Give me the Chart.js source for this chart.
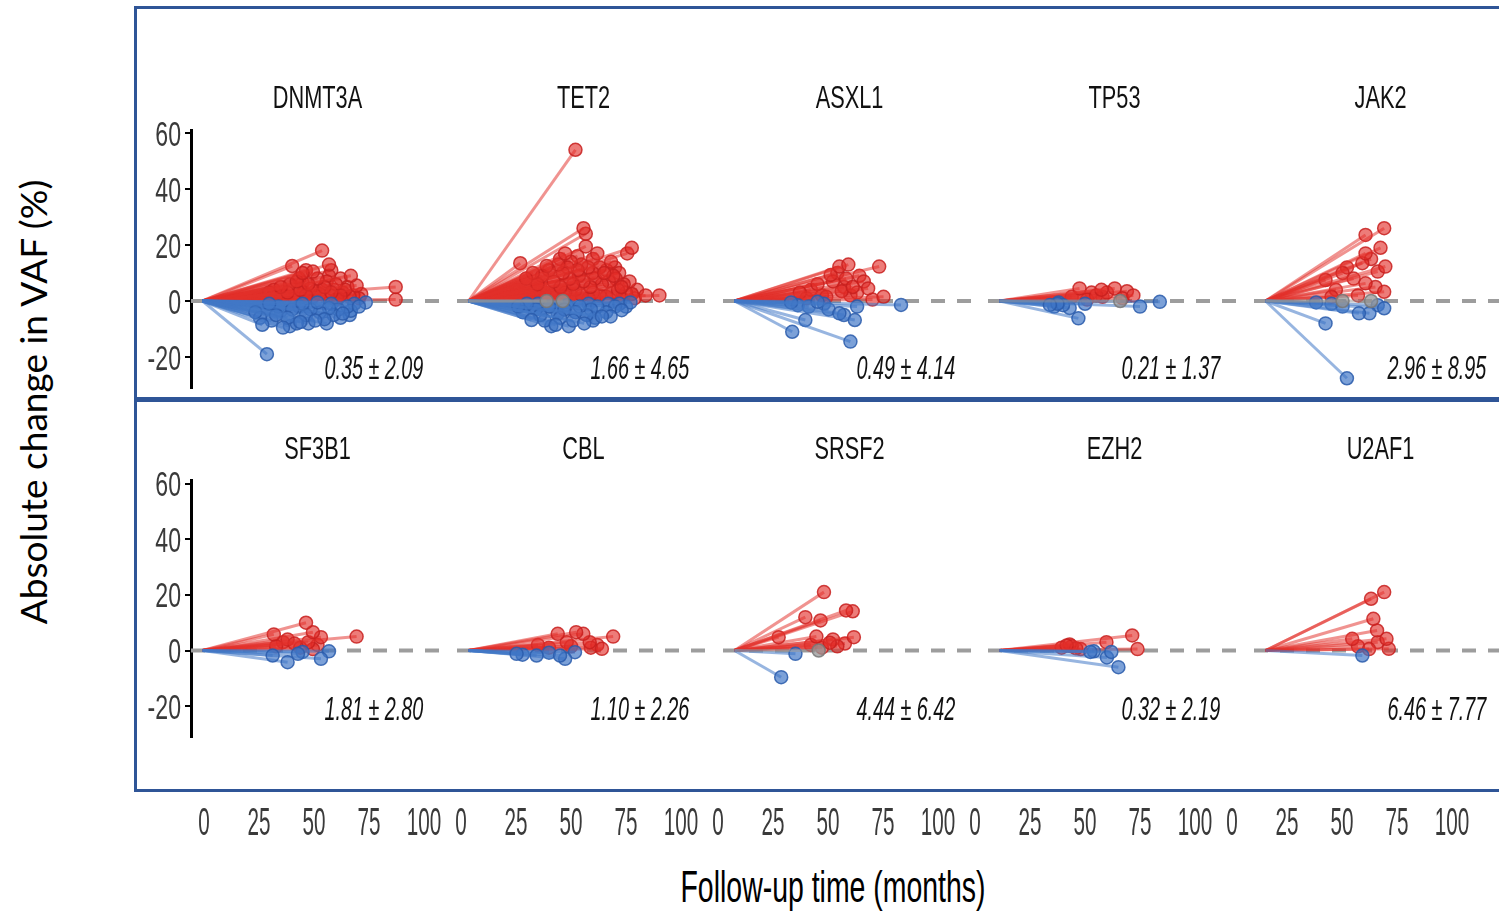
<!DOCTYPE html>
<html>
<head>
<meta charset="utf-8">
<title>Absolute change in VAF by gene</title>
<script src="https://cdn.jsdelivr.net/npm/chart.js@4.4.1/dist/chart.umd.min.js"></script>
<style>
  html, body { margin: 0; padding: 0; background: #fff; }
  #page { position: relative; width: 1499px; height: 912px; overflow: hidden; background: #fff; }
  #page canvas { position: absolute; }
  .frame { position: absolute; border: 3px solid #2f5597; box-sizing: border-box; }
  .axis-title { position: absolute; white-space: nowrap; color: #000; line-height: 1; left: 0; top: 0; }
</style>
</head>
<body>
<div id="page">
  <div class="frame" style="left:134px;top:6px;width:1372px;height:394px"></div>
  <div class="frame" style="left:134px;top:399px;width:1372px;height:393px"></div>
  <div id="ytitle" class="axis-title">Absolute change in VAF (%)</div>
  <div id="xtitle" class="axis-title">Follow-up time (months)</div>
</div>
<script>
// ---- data: [follow-up months, absolute change in VAF (%)] per clone ----
const DNMT3A = [
  [52,18],[55,13],[39,12.5],[43.5,10],[48,10.5],[64.5,9],[67,5.5],[84,5],[84,0.5],[41,7],
  [46,6],[50,8],[34,5],[37,3],[42.5,4],[45,2],[53,5],[56,3],[58,6],[60,2],
  [62,4],[64,1.5],[29,3],[32,1.5],[35,2],[40,1],[44,3],[47,4.5],[51,2.5],[54,7],
  [57,4],[59,1],[61,3],[65.5,2],[68,1],[24,1],[27,2],[31,4],[38,6],[42,8],
  [49,3.5],[55,9],[63,5],[69,2.5],[36,1],[48,1.5],[52,4],[58,0.5],[56,11],[45,11],
  [60,8],[43.5,6.5],
  [28,-19],[26,-8.5],[35,-9.5],[42.5,-7.5],[49,-7],[53,-6.5],[61,-4.5],[68,-2],[71,-0.5],[29,-1],
  [43.5,-1],[50,-0.5],[23,-4],[25,-6],[32,-5],[37,-6],[39,-3],[41,-8],[45,-5],[47,-3],
  [51,-4],[55,-2.5],[57,-5],[59,-3],[63,-2],[64.5,-3.5],[66,-1],[33,-2],[30,-7],[38,-9],
  [46,-8],[54,-8],[60,-6],[42,-2],[34,-3.5],[28,-2.5],[56,-1],[64,-5]
];
const TET2 = [
  [46.5,54],[50,26],[51,24],[42,17],[22.5,13.5],[71,19],[69,17],[51,19.5],[56,17],[62,14],
  [59,10],[63,9],[34,12.5],[66.5,5],[77,2],[83,2],[71,2.5],
  [25,8],[28,10],[30,6],[32,9],[35,11],[37,7],[39,13],[40,5],[41,10],[43,12],
  [44,8],[44.5,14],[45.5,6],[47.5,11],[48,9],[49,13],[50,7],[52,12],[53,5],[54,10],
  [55,8],[57,12],[58,6],[60,11],[61,7],[64,8],[65,4],[65.5,10],[67.5,6],[68.5,3],
  [70,7],[73.3,4],[21,4],[23.5,3],[26,2],[29,4],[33,3],[36,2],[38,1.5],[42,3],
  [46.5,4],[49.3,2],[52.2,1],[54.1,3],[57,2],[59.9,1.5],[62.7,3],[66.6,1],[72.3,1],[39.8,15],
  [47.4,16],[54.1,15],[63.7,12],[31.2,5],[44.6,2],
  [34,0],[41,0],
  [27.4,-6.8],[37.9,-8.5],[50.3,-8],[58,-5.5],[61.8,-5.5],[66.6,-3.3],[70.4,-0.5],[45.5,-7],[31.2,-5],[21.6,-2],
  [23.5,-4],[25.4,-1],[29.3,-3],[33.1,-7],[35,-2],[36,-9],[39.8,-6],[41.7,-3],[43.6,-9],[46.5,-4],
  [48.4,-2],[51.3,-5],[53.2,-3],[54.1,-7],[56,-2],[59.9,-4],[63.7,-2],[65.6,-1],[68.5,-2],[30.2,-1],
  [42.7,-1.5],[52.2,-1],[38.8,-4.5],[55.1,-6],[60.8,-1]
];
const ASXL1 = [
  [49.5,13],[45.6,12.3],[62.9,12.3],[41.8,9.3],[51.4,5],[58.1,4.5],[64.8,1.5],[60,0.5],[39.9,1.5],[46.6,3.5],
  [28.4,3],[36.1,6],[42.8,7],[48.5,8],[53.3,3],[56.2,7],[33.2,4],[38,2],[44.7,10],[50.4,2],
  [54.3,9],[31.3,1],[47.6,5],
  [72.4,-1.4],[25.1,-11],[50.4,-14.5],[30.8,-6.8],[52.3,-6.8],[45.6,-4.4],[53.3,-2],[24.6,-0.5],[36.1,-0.3],[40.9,-3],
  [47.6,-5],[32.3,-2],[27.5,-1.5],[38.9,-1]
];
const TP53 = [
  [50.1,4.5],[44.3,4],[34.8,4.5],[58.2,2],[42,2],[38.1,0.5],[46.7,3],[53.4,1],[31.4,1.5],[40,3],
  [55.4,3.5],[44.8,1.5],
  [52.5,0],
  [34.3,-6.2],[21.9,-1.4],[25.2,-1],[61.1,-2],[69.7,-0.3],[27.6,-1.5],[30.5,-2.5],[23.8,-2],[37.2,-1],[25.7,-0.5]
];
const JAK2 = [
  [51.6,26],[43.5,23.6],[50,19],[43.5,17],[52.1,12.3],[42.1,13.5],[48.8,10.5],[33.5,10],[26.1,7.5],[43.5,6.3],
  [51.6,3.3],[28.7,1.5],[38.3,8],[45.9,15],[30.6,4],[40.2,2],[47.8,5],[35.4,12],
  [33.5,0],[45.9,0],
  [35.4,-27.6],[26.1,-8],[40.6,-4.4],[45.2,-4.4],[51.6,-2.6],[22,-0.5],[33.5,-2],[28.7,-1],[48.8,-1.5]
];
const SF3B1 = [
  [45,10],[67,5],[31,5.8],[48,6.6],[51.5,4.8],[46,3],[48,0.5],[32,1.5],[40,2.5],[37,4],
  [42.5,1],[50,2],[35,3],
  [30.5,-1.8],[37,-4.2],[41.5,-1.2],[51.5,-3],[55,-0.3],[43.5,-0.5]
];
const CBL = [
  [38.8,6],[46.8,6.6],[49.9,6],[62.9,5],[52.7,3],[58,0.6],[53.2,1],[30.2,2],[42.7,3],[44.6,1.5],
  [35,1],[56,2],
  [20.9,-1.2],[29.6,-1.8],[39.8,-1.8],[42,-3],[46.3,-0.6],[23.5,-1.5],[35,-0.8]
];
const SRSF2 = [
  [38.9,21],[48.5,14.4],[51.4,14.1],[30.8,12],[37.4,10.8],[19.2,4.8],[35.6,5],[51.9,4.8],[41.4,2.8],[44.7,1.5],
  [48,2.5],[38,1],[42.8,4],[33.2,2],
  [36.6,0],
  [20.3,-9.6],[26.5,-1.2]
];
const EZH2 = [
  [57.7,5.4],[60,0.5],[46.5,3],[29.2,1.8],[33.3,0.8],[30.5,2.2],[27,1],[31.4,1.5],[35.3,0.5],
  [51.7,-6],[48.6,-0.5],[39.5,-0.5],[41,-0.3],[46.7,-2.5]
];
const U2AF1 = [
  [51.6,21],[45.9,18.6],[46.9,11.4],[48.5,7.2],[52.6,4.2],[37.7,4.2],[53.6,0.6],[45,0.5],[40.2,1.5],[48.8,3],
  [42.1,-1.8]
];

const GENES = ['DNMT3A', 'TET2', 'ASXL1', 'TP53', 'JAK2', 'SF3B1', 'CBL', 'SRSF2', 'EZH2', 'U2AF1'];
const GENE_SERIES = [DNMT3A, TET2, ASXL1, TP53, JAK2, SF3B1, CBL, SRSF2, EZH2, U2AF1];
const MEAN_SD = ['0.35 ± 2.09', '1.66 ± 4.65', '0.49 ± 4.14', '0.21 ± 1.37', '2.96 ± 8.95',
                 '1.81 ± 2.80', '1.10 ± 2.26', '4.44 ± 6.42', '0.32 ± 2.19', '6.46 ± 7.77'];
const X_TICKS = [0, 25, 50, 75, 100];
const Y_TICKS = [-20, 0, 20, 40, 60];

// ---- layout ----
const X_MIN = -5, X_MAX = 105, Y_MIN = -31, Y_MAX = 61;
const PX_PER_MONTH = 2.3;
const AREA_LEFT = [191, 457, 723, 988, 1254];
const ROW_GEOM = [{ zeroY: 301, pxPerUnit: 2.8, statY: -23.8 }, { zeroY: 650.5, pxPerUnit: 2.78, statY: -20.6 }];
const STRIP_LEFT = [193, 450, 707, 964, 1221];   // tick strip area left (x = -5), 2.2 px / month
const STRIP_TOP = 800, STRIP_BASELINE = 35;
const STAT_X = 74.5;

const FONT_FAMILY = '"Liberation Sans", Arial, sans-serif';
const TXT = {
  yTick:  { size: 35, sx: 0.66, color: '#3a3a3a', align: 'right' },
  xTick:  { size: 39, sx: 0.53, color: '#3a3a3a', align: 'center' },
  strip:  { size: 32, sx: 0.68, color: '#111', align: 'center' },
  stat:   { size: 33, sx: 0.6,  color: '#111', align: 'center', style: 'italic' }
};

const RED = { line: 'rgba(226,48,42,0.52)', fill: 'rgba(226,44,38,0.62)', edge: 'rgba(200,32,30,0.85)' };
const BLUE = { line: 'rgba(66,120,198,0.55)', fill: 'rgba(62,116,198,0.68)', edge: 'rgba(42,92,172,0.85)' };
const GREY = { line: 'rgba(150,150,150,0.5)', fill: 'rgba(150,150,150,0.75)', edge: 'rgba(120,120,120,0.85)' };

function drawCondensed(ctx, text, x, baseline, f) {
  ctx.save();
  ctx.translate(x, baseline);
  ctx.scale(f.sx, 1);
  ctx.font = `${f.style || 'normal'} ${f.size}px ${FONT_FAMILY}`;
  ctx.fillStyle = f.color;
  ctx.textAlign = f.align;
  ctx.textBaseline = 'alphabetic';
  ctx.fillText(text, 0, 0);
  ctx.restore();
}

// Strip titles, tick labels, zero reference line and mean ± SD notes
const panelText = {
  id: 'panelText',
  beforeDatasetsDraw(chart, args, opts) {
    if (!opts.zeroLine) return;
    const a = chart.chartArea, ctx = chart.ctx;
    const y0 = chart.scales.y.getPixelForValue(0);
    ctx.save();
    ctx.strokeStyle = '#9d9d9d';
    ctx.lineWidth = 4;
    ctx.setLineDash([14, 12]);
    ctx.beginPath();
    ctx.moveTo(a.left, y0);
    ctx.lineTo(a.right, y0);
    ctx.stroke();
    ctx.restore();
  },
  afterDraw(chart, args, opts) {
    const a = chart.chartArea, ctx = chart.ctx;
    if (opts.title) {
      drawCondensed(ctx, opts.title, (a.left + a.right) / 2, a.top - 22, TXT.strip);
    }
    if (opts.stat) {
      const x = chart.scales.x.getPixelForValue(STAT_X);
      const y = chart.scales.y.getPixelForValue(opts.statY);
      drawCondensed(ctx, opts.stat, x, y + 0.358 * TXT.stat.size, TXT.stat);
    }
    if (opts.yLabels) {
      const ys = chart.scales.y;
      Y_TICKS.forEach(v => {
        drawCondensed(ctx, String(v), a.left - 10, ys.getPixelForValue(v) + 0.358 * TXT.yTick.size, TXT.yTick);
      });
    }
    if (opts.xLabels) {
      const xs = chart.scales.x;
      X_TICKS.forEach(v => {
        drawCondensed(ctx, String(v), xs.getPixelForValue(v), STRIP_BASELINE, TXT.xTick);
      });
    }
  }
};
Chart.register(panelText);

function colourFor(change) {
  if (change > 0) return RED;
  if (change < 0) return BLUE;
  return GREY;
}

function buildDatasets(series) {
  const grey = [], blue = [], red = [];
  series.forEach(([months, change]) => {
    const c = colourFor(change);
    const ds = {
      data: [{ x: 0, y: 0 }, { x: months, y: change }],
      showLine: true,
      borderColor: c.line,
      borderWidth: 3,
      pointRadius: [0, 6.5],
      pointHoverRadius: [0, 6.5],
      pointBackgroundColor: c.fill,
      pointBorderColor: c.edge,
      pointBorderWidth: 1.5,
      clip: false
    };
    (change > 0 ? red : change < 0 ? blue : grey).push(ds);
  });
  // lower index is painted last, so grey and blue end points sit above the red fan
  return grey.concat(blue, red);
}

const page = document.getElementById('page');

function addCanvas(left, top, width, height) {
  const cv = document.createElement('canvas');
  cv.width = width; cv.height = height;
  cv.style.left = left + 'px'; cv.style.top = top + 'px';
  cv.style.width = width + 'px'; cv.style.height = height + 'px';
  page.appendChild(cv);
  return cv;
}

GENES.forEach((gene, i) => {
  const row = Math.floor(i / 5), col = i % 5;
  const g = ROW_GEOM[row];
  const areaLeft = AREA_LEFT[col];
  const areaW = (X_MAX - X_MIN) * PX_PER_MONTH;
  const areaTop = g.zeroY - Y_MAX * g.pxPerUnit;
  const areaH = (Y_MAX - Y_MIN) * g.pxPerUnit;
  const yAxisW = col === 0 ? 60 : 0;
  const padL = 10, padR = 10;
  const canvasLeft = areaLeft - padL - yAxisW;
  const canvasTop = Math.floor(areaTop) - 90;
  const padTop = areaTop - canvasTop;
  const canvasH = Math.ceil(areaTop + areaH + 15) - canvasTop;
  const padBottom = canvasH - padTop - areaH;
  const canvasW = Math.round(padL + yAxisW + areaW + padR);
  const cv = addCanvas(canvasLeft, canvasTop, canvasW, canvasH);

  new Chart(cv, {
    type: 'scatter',
    data: { datasets: buildDatasets(GENE_SERIES[i]) },
    options: {
      responsive: false,
      animation: false,
      devicePixelRatio: 1,
      events: [],
      layout: { padding: { left: padL, right: padR, top: padTop, bottom: padBottom } },
      scales: {
        x: { type: 'linear', min: X_MIN, max: X_MAX, display: false },
        y: {
          type: 'linear', min: Y_MIN, max: Y_MAX,
          display: col === 0,
          afterBuildTicks: s => { s.ticks = Y_TICKS.map(v => ({ value: v })); },
          afterFit: s => { s.width = yAxisW; },
          border: { display: true, color: '#000', width: 3 },
          grid: { display: true, drawOnChartArea: false, drawTicks: true, tickLength: 6, color: '#000', lineWidth: 2 },
          ticks: { display: false }
        }
      },
      plugins: {
        legend: { display: false },
        tooltip: { enabled: false },
        panelText: { title: gene, stat: MEAN_SD[i], statY: g.statY, zeroLine: true, yLabels: col === 0 }
      }
    }
  });
});

// shared month axis under the bottom row
STRIP_LEFT.forEach(left => {
  const cv = addCanvas(left - 10, STRIP_TOP, 262, 50);
  new Chart(cv, {
    type: 'scatter',
    data: { datasets: [] },
    options: {
      responsive: false,
      animation: false,
      devicePixelRatio: 1,
      events: [],
      layout: { padding: { left: 10, right: 10, top: 0, bottom: 0 } },
      scales: {
        x: { type: 'linear', min: X_MIN, max: X_MAX, display: false },
        y: { display: false }
      },
      plugins: { legend: { display: false }, tooltip: { enabled: false }, panelText: { xLabels: true } }
    }
  });
});

// axis titles
(function placeTitles() {
  const measure = document.createElement('canvas').getContext('2d');
  const yt = document.getElementById('ytitle');
  measure.font = '32px Lato, "Open Sans", sans-serif';
  const yw = measure.measureText(yt.textContent).width;
  const ySize = 32 * 447 / yw;
  yt.style.fontFamily = 'Lato, "Open Sans", sans-serif';
  yt.style.fontSize = ySize + 'px';
  yt.style.transform = 'translate(33px, 402px) translate(-50%, -50%) rotate(-90deg)';

  const xt = document.getElementById('xtitle');
  measure.font = `44px ${FONT_FAMILY}`;
  const xw = measure.measureText(xt.textContent).width;
  xt.style.fontFamily = FONT_FAMILY;
  xt.style.fontSize = '44px';
  xt.style.transform = `translate(833px, 887px) translate(-50%, -50%) scaleX(${305 / xw})`;
})();
</script>
</body>
</html>
